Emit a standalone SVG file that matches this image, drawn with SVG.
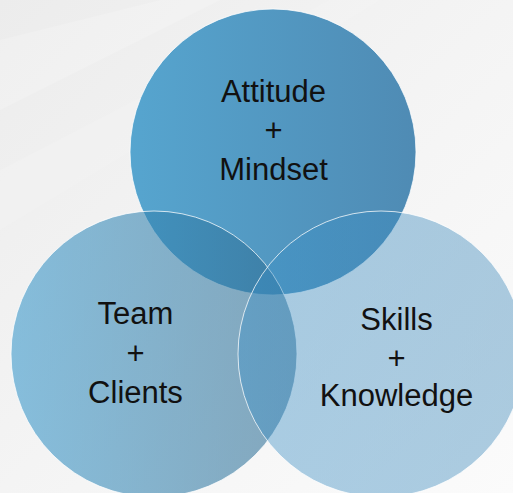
<svg xmlns="http://www.w3.org/2000/svg" width="513" height="493" viewBox="0 0 513 493">
  <defs>
    <linearGradient id="bg" x1="0" y1="0" x2="1" y2="1">
      <stop offset="0" stop-color="#ececec"/>
      <stop offset="0.5" stop-color="#f4f4f4"/>
      <stop offset="1" stop-color="#fbfbfb"/>
    </linearGradient>
    <linearGradient id="gTop" gradientUnits="userSpaceOnUse" x1="130" y1="0" x2="416" y2="0">
      <stop offset="0" stop-color="#56a5cf"/>
      <stop offset="1" stop-color="#4f8bb4"/>
    </linearGradient>
    <linearGradient id="gLeft" gradientUnits="userSpaceOnUse" x1="11" y1="0" x2="297" y2="0">
      <stop offset="0" stop-color="#3797cb"/>
      <stop offset="1" stop-color="#2f6c91"/>
    </linearGradient>
    <linearGradient id="gRight" gradientUnits="userSpaceOnUse" x1="238" y1="0" x2="524" y2="0">
      <stop offset="0" stop-color="#3a8fc6"/>
      <stop offset="1" stop-color="#3a86b8"/>
    </linearGradient>
  </defs>
  <style>
    .circ { stroke: #ffffff; stroke-opacity: 0.75; stroke-width: 1; }
    .lbl { font-family: "Liberation Sans", Arial, sans-serif; font-size: 31px; fill: #111111; text-anchor: middle; }
  </style>
  <rect x="0" y="0" width="513" height="493" fill="url(#bg)"/>
  <polygon points="0,40 160,0 220,0 0,110" fill="#ffffff" opacity="0.18"/>
  <polygon points="0,170 330,0 380,0 0,230" fill="#ffffff" opacity="0.12"/>

  <g id="node-attitude">
    <circle class="circ" cx="273" cy="152" r="143" fill="url(#gTop)"/>
  </g>
  <g id="node-team">
    <circle class="circ" cx="154" cy="354" r="143" fill="url(#gLeft)" fill-opacity="0.58"/>
  </g>
  <g id="node-skills">
    <circle class="circ" cx="381" cy="354" r="143" fill="url(#gRight)" fill-opacity="0.41"/>
  </g>

  <g id="labels">
    <text class="lbl" x="273.5" y="102">Attitude</text>
    <text class="lbl" x="273.5" y="141">+</text>
    <text class="lbl" x="273.5" y="180">Mindset</text>
    <text class="lbl" x="135.5" y="324">Team</text>
    <text class="lbl" x="135.5" y="364">+</text>
    <text class="lbl" x="135.5" y="403">Clients</text>
    <text class="lbl" x="396.5" y="330">Skills</text>
    <text class="lbl" x="396.5" y="369">+</text>
    <text class="lbl" x="396.5" y="406">Knowledge</text>
  </g>
</svg>
